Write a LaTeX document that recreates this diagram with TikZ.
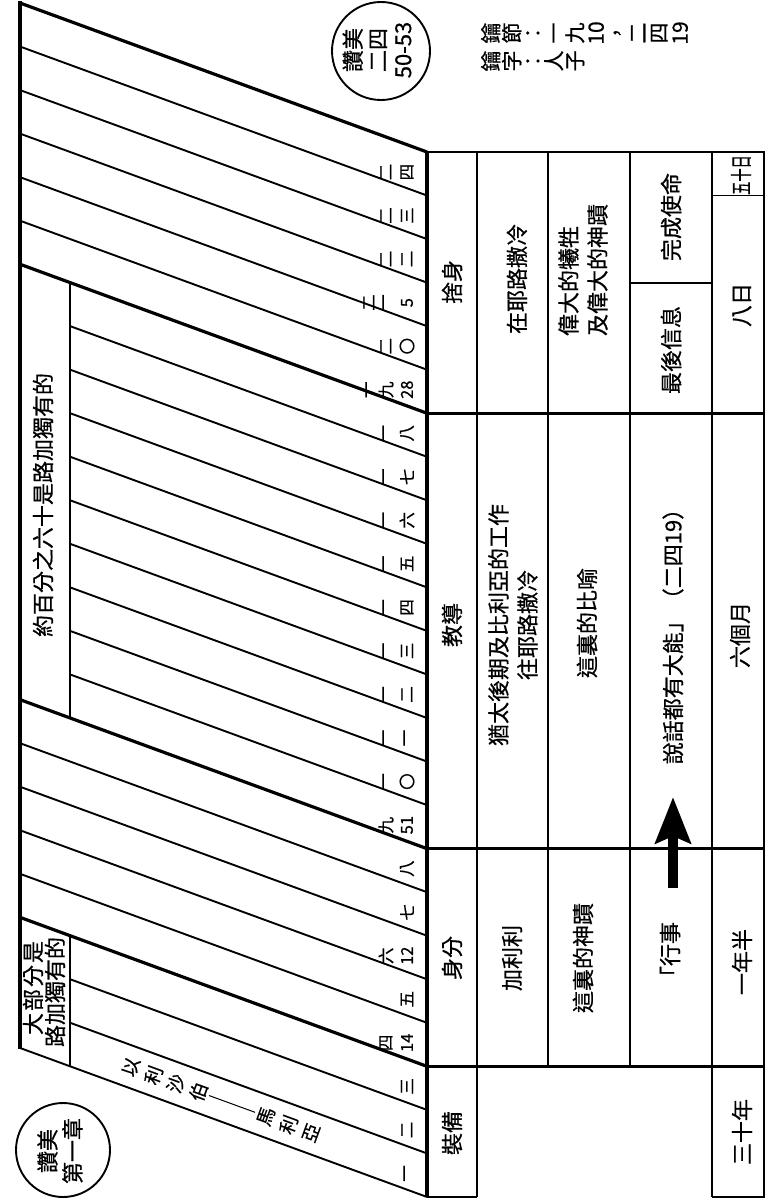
\documentclass[tikz,border=0pt]{standalone}
\usepackage{fontspec}
\setmainfont{Noto Sans CJK TC}[FakeBold=0.6]
\usepackage{graphicx}
\usetikzlibrary{arrows.meta}
\newcommand\vg[1]{\rotatebox[origin=c]{90}{\makebox[1em]{\rule[-0.12em]{0pt}{1em}#1}}}
\begin{document}
\begin{tikzpicture}[x=1pt,y=-1pt,
  rl/.style={line width=1.9pt},
  tl/.style={line width=3.2pt},
  txt/.style={rotate=90, inner sep=0pt, align=center, font=\fontsize{22}{29}\selectfont},
  lab/.style={rotate=90, inner sep=0pt, font=\fontsize{16.5}{16.5}\selectfont},
  ring/.style={circle, draw, line width=1.9pt, inner sep=0pt},
  slch/.style={rotate=69.9, inner sep=0pt, font=\fontsize{18.5}{18.5}\selectfont}]
\useasboundingbox (0,0) rectangle (769,1199);
% slanted chapter lines
\foreach \k in {0,...,24}{
  \pgfmathsetmacro\Ry{152+\k*43.54}
  \pgfmathsetmacro\Ly{\Ry-149}
  \pgfmathsetmacro\sx{(((\k>6)&&(\k<16))||(\k==22)||(\k==23)) ? 70 : 20}
  \pgfmathsetmacro\sy{\Ly+(\sx-20)*149/407}
  \pgfmathsetmacro\lw{((\k==0)||(\k==6)||(\k==16)||(\k==21)) ? 3.2 : 1.9}
  \draw[line width=\lw pt] (\sx,\sy) -- (427,\Ry);
}
% left edge and inner boxes
\draw[tl] (20,1.5) -- (20,1049);
\draw[rl] (70,282.9) -- (70,718.0);
\draw[rl] (70,935.6) -- (70,1066.3);
% right edge of strips
\draw[tl] (427,150.5) -- (427,1197);
% table
\draw[rl] (427,152) -- (764,152) -- (764,1197) -- (712,1197);
\draw[rl] (427,1197) -- (477,1197);
\draw[tl] (427,413.24) -- (764,413.24);
\draw[tl] (427,848.64) -- (764,848.64);
\draw[tl] (427,1066.34) -- (764,1066.34);
\draw[rl] (477,152) -- (477,1197);
\draw[rl] (548,152) -- (548,1066.34);
\draw[rl] (630,152) -- (630,1066.34);
\draw[rl] (712,152) -- (712,1197);
\draw[rl] (630,282.62) -- (712,282.62);
\draw[rl] (712,195.54) -- (764,195.54);
% chapter labels
\foreach \k/\a/\b/\c in {0//二/四,1//二/三,2//二/二,3/二/一/5,4//二/〇,5/一/九/28,6//一/八,7//一/七,8//一/六,9//一/五,10//一/四,11//一/三,12//一/二,13//一/一,14//一/〇,15//九/51,16///八,17///七,18//六/12,19///五,20//四/14,21///三,22///二,23///一}{
  \pgfmathsetmacro\ly{152+43.54*\k+20}
  \node[lab] (la\k) at (369,\ly) {\a};
  \node[lab] (lb\k) at (386,\ly) {\b};
  \node[lab] (lc\k) at (407,\ly) {\c};
}
% left box texts
\node[txt] (sixty) at (43,505) {約百分之六十是路加獨有的};
\node[txt] (most1) at (33,988) {大\hspace{2pt}部\hspace{2pt}分\hspace{2pt}是};
\node[txt] (most2) at (55,992) {路加獨有的};
% slanted text
\foreach \ch/\xx [count=\i] in {以/131,利/153.5,沙/176,伯/198.5,馬/266,利/288.5,亞/311}{
  \pgfmathsetmacro\yy{1026.3+(\xx-20)*0.3661}
  \node[slch] (s\i) at (\xx,\yy) {\ch};
}
\coordinate (d1) at (209,1095.5);
\coordinate (d2) at (255,1112.3);
\draw[line width=1pt] (d1) -- (d2);
% circles
\node[ring, minimum size=98pt] (cTop) at (381,51) {};
\node[txt, font=\fontsize{22}{25}\selectfont] (cTopT) at (377,50) {讚美\\二四\\50-53};
\node[ring, minimum size=94pt] (cBot) at (63,1150) {};
\node[txt, font=\fontsize{22}{25}\selectfont] (cBotT) at (60,1151) {讚美\\第一章};
% key verse
\node[anchor=west, inner sep=0pt, font=\fontsize{21}{21}\selectfont] (kv1) at (480,33) {\vg{鑰}\vg{節}\vg{：}\vg{一}\vg{九}\vg{10}\vg{，}\vg{二}\vg{四}\vg{19}};
\node[anchor=west, inner sep=0pt, font=\fontsize{21}{21}\selectfont] (kv2) at (480,61) {\vg{鑰}\vg{字}\vg{：}\vg{人}\vg{子}};
% header column
\node[txt] (h1) at (452,282) {捨身};
\node[txt] (h2) at (452,625) {教導};
\node[txt] (h3) at (452,958) {身分};
\node[txt] (h4) at (452,1133) {裝備};
% column 2
\node[txt] (c21) at (517,279) {在耶路撒冷};
\node[txt] (c22) at (513,625) {猶太後期及比利亞的工作\\往耶路撒冷};
\node[txt] (c23) at (512,958) {加利利};
% column 3
\node[txt, align=left] (c31) at (583,270) {偉大的犧牲\\及偉大的神蹟};
\node[txt] (c32) at (587,623) {這裏的比喻};
\node[txt] (c33) at (583,958) {這裏的神蹟};
% column 4
\node[txt] (c41) at (671,217) {完成使命};
\node[txt] (c42) at (671,350) {最後信息};
\node[txt] (c43) at (673,631) {說話都有大能」（二四19）};
\node[txt] (c44) at (670,955) {「行事};
\coordinate (arrS) at (673,888);
\coordinate (arrE) at (673,797);
\draw[line width=10pt, -{Stealth[length=46pt,width=35pt,inset=7pt]}] (arrS) -- (arrE);
% column 5
\node[txt] (c51) at (741,175) {\scalebox{0.6}[1]{五十日}};
\node[txt] (c52) at (742,305) {八日};
\node[txt] (c53) at (740,635) {六個月};
\node[txt] (c54) at (742,962) {一年半};
\node[txt] (c55) at (742,1132) {三十年};
\end{tikzpicture}
\end{document}
